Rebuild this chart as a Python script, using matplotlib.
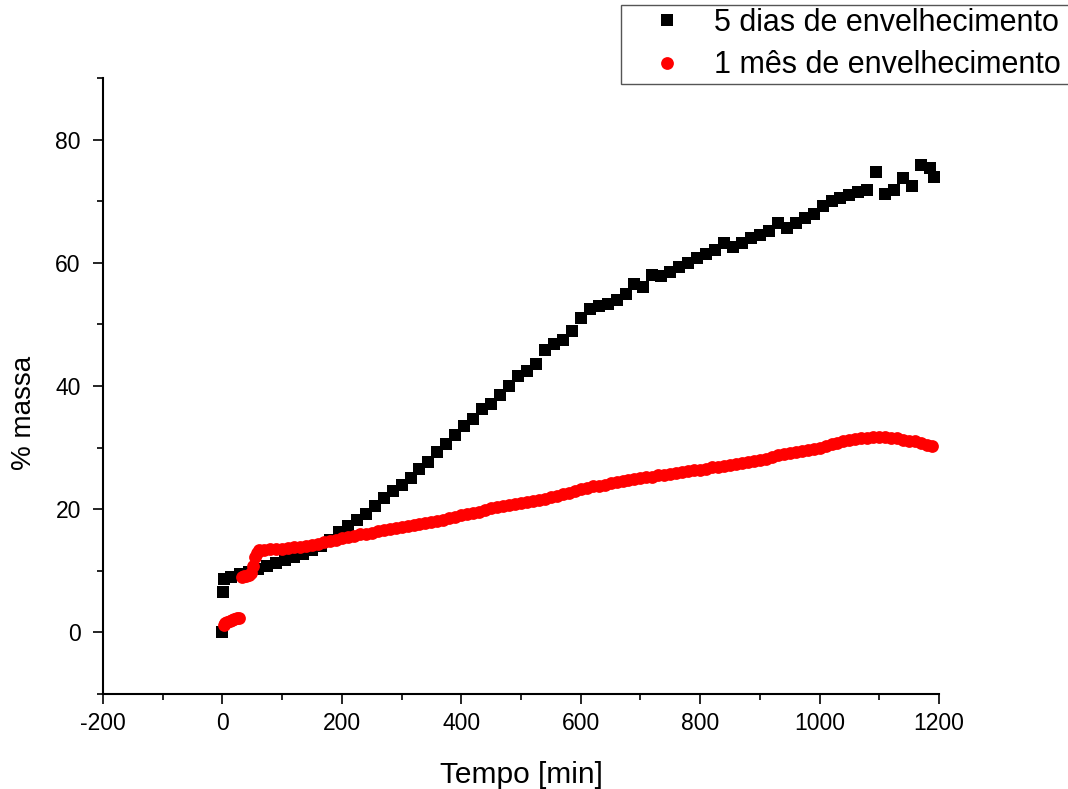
import matplotlib
matplotlib.use("Agg")
import matplotlib.pyplot as plt
from matplotlib.ticker import MultipleLocator
from matplotlib.patches import Rectangle

plt.rcParams['font.family'] = ['Liberation Sans', 'DejaVu Sans']
plt.rcParams['axes.unicode_minus'] = False

# 5 dias de envelhecimento (black squares)
black_t = [0, 1, 3, 15, 30, 45, 60, 75, 90, 105, 120, 135, 150, 165, 180, 195,
           210, 225, 240, 255, 270, 285, 300, 315, 330, 345, 360, 375, 390, 405,
           420, 435, 450, 465, 480, 495, 510, 525, 540, 555, 570, 585, 600, 615,
           630, 645, 660, 675, 690, 705, 720, 735, 750, 765, 780, 795, 810, 825,
           840, 855, 870, 885, 900, 915, 930, 945, 960, 975, 990, 1005, 1020,
           1035, 1050, 1065, 1080, 1095, 1110, 1125, 1140, 1155, 1170, 1185, 1192]
black_v = [0.0, 6.5, 8.7, 9.0, 9.4, 9.8, 10.3, 10.8, 11.2, 11.7, 12.2, 12.7,
           13.3, 14.0, 15.0, 16.3, 17.3, 18.3, 19.3, 20.5, 21.8, 23.0, 24.0,
           25.0, 26.6, 27.6, 29.3, 30.6, 32.0, 33.5, 34.6, 36.2, 37.0, 38.6,
           40.0, 41.6, 42.5, 43.5, 45.8, 46.8, 47.5, 49.0, 51.0, 52.5, 53.0,
           53.3, 54.0, 55.0, 56.5, 56.0, 58.0, 57.8, 58.5, 59.3, 60.0, 60.7,
           61.5, 62.0, 63.2, 62.5, 63.2, 64.0, 64.5, 65.2, 66.5, 65.7, 66.5,
           67.3, 68.0, 69.3, 70.0, 70.5, 71.0, 71.5, 71.8, 74.8, 71.2, 71.8,
           73.7, 72.5, 75.8, 75.4, 74.0]

# 1 mes de envelhecimento (red circles)
red_t = [2, 5, 8, 12, 16, 20, 24, 27, 32, 36, 40, 44, 48, 52, 55, 58, 62,
         70, 80, 90, 100, 110, 120, 130, 140, 150, 160, 170, 180, 190, 200,
         210, 220, 230, 240, 250, 260, 270, 280, 290, 300, 310, 320, 330, 340,
         350, 360, 370, 380, 390, 400, 410, 420, 430, 440, 450, 460, 470, 480,
         490, 500, 510, 520, 530, 540, 550, 560, 570, 580, 590, 600, 610, 620,
         630, 640, 650, 660, 670, 680, 690, 700, 710, 720, 730, 740, 750, 760,
         770, 780, 790, 800, 810, 820, 830, 840, 850, 860, 870, 880, 890, 900,
         910, 920, 930, 940, 950, 960, 970, 980, 990, 1000, 1010, 1020, 1030,
         1040, 1050, 1060, 1070, 1080, 1090, 1100, 1110, 1120, 1130, 1140,
         1150, 1160, 1170, 1180, 1188]
red_v = [1.2, 1.5, 1.7, 1.9, 2.0, 2.1, 2.3, 2.4, 9.0, 9.1, 9.2, 9.3, 9.6,
         10.8, 12.2, 12.9, 13.3, 13.4, 13.5, 13.6, 13.6, 13.7, 13.8, 13.9,
         14.0, 14.2, 14.4, 14.6, 14.8, 15.0, 15.3, 15.5, 15.7, 15.9, 16.0,
         16.2, 16.4, 16.6, 16.8, 17.0, 17.1, 17.3, 17.5, 17.6, 17.8, 17.9,
         18.1, 18.3, 18.5, 18.8, 19.0, 19.2, 19.4, 19.6, 19.9, 20.2, 20.4,
         20.5, 20.7, 20.8, 21.0, 21.1, 21.3, 21.5, 21.7, 22.0, 22.2, 22.4,
         22.6, 22.9, 23.2, 23.5, 23.7, 23.8, 24.0, 24.2, 24.4, 24.6, 24.8,
         24.9, 25.0, 25.2, 25.3, 25.5, 25.6, 25.7, 25.9, 26.0, 26.2, 26.3,
         26.4, 26.6, 26.8, 26.9, 27.0, 27.2, 27.4, 27.5, 27.7, 27.9, 28.0,
         28.2, 28.5, 28.8, 29.0, 29.1, 29.3, 29.5, 29.6, 29.8, 30.0, 30.3,
         30.6, 30.8, 31.0, 31.2, 31.4, 31.5, 31.6, 31.7, 31.7, 31.7, 31.6,
         31.5, 31.3, 31.1, 31.0, 30.8, 30.5, 30.2]

labels = ['5 dias de envelhecimento', '1 mês de envelhecimento']

W, H = 1068, 789
fig = plt.figure(figsize=(W / 100, H / 100), dpi=100)
ax = fig.add_axes([103/W, 1 - 694/H, (939 - 103)/W, (694 - 78)/H])

ax.plot(black_t, black_v, linestyle='none', marker='s', markersize=9.0,
        color='black', markeredgewidth=0, label=labels[0])
ax.plot(red_t, red_v, linestyle='none', marker='o', markersize=9.2,
        color='#ff0000', markeredgewidth=0, label=labels[1])

ax.set_xlim(-200, 1200)
ax.set_ylim(-10, 90)
ax.xaxis.set_major_locator(MultipleLocator(200))
ax.xaxis.set_minor_locator(MultipleLocator(100))
ax.yaxis.set_major_locator(MultipleLocator(20))
ax.yaxis.set_minor_locator(MultipleLocator(10))

for s in ['top', 'right']:
    ax.spines[s].set_visible(False)
for s in ['left', 'bottom']:
    ax.spines[s].set_linewidth(1.5)

ax.tick_params(which='major', direction='out', length=7, width=1.2,
               labelsize=16.5, pad=6)
ax.tick_params(axis='y', which='major', pad=9)
ax.tick_params(which='minor', direction='out', length=4, width=1.2)

ax.set_xlabel('Tempo [min]', fontsize=21.5)
ax.set_ylabel('% massa', fontsize=20)
ax.xaxis.set_label_coords(0.5, -0.108)
ax.yaxis.set_label_coords(-0.079, 0.456)

# legend frame (extends past the right edge of the figure, as in the reference)
frame = Rectangle((621/W, 1 - 84/H), (1090 - 621)/W, 79/H,
                  transform=fig.transFigure, facecolor='white',
                  edgecolor='#555555', linewidth=1.0, zorder=5)
fig.add_artist(frame)

leg = fig.legend(loc='upper left', bbox_to_anchor=(621/W, 1 - 5/H),
                 bbox_transform=fig.transFigure, borderaxespad=0,
                 fontsize=22, frameon=False, handletextpad=0.15,
                 labelspacing=0.4, borderpad=0.1, handlelength=2.8,
                 markerscale=1.0)
leg.set_zorder(6)

fig.savefig('out.png', dpi=100)
